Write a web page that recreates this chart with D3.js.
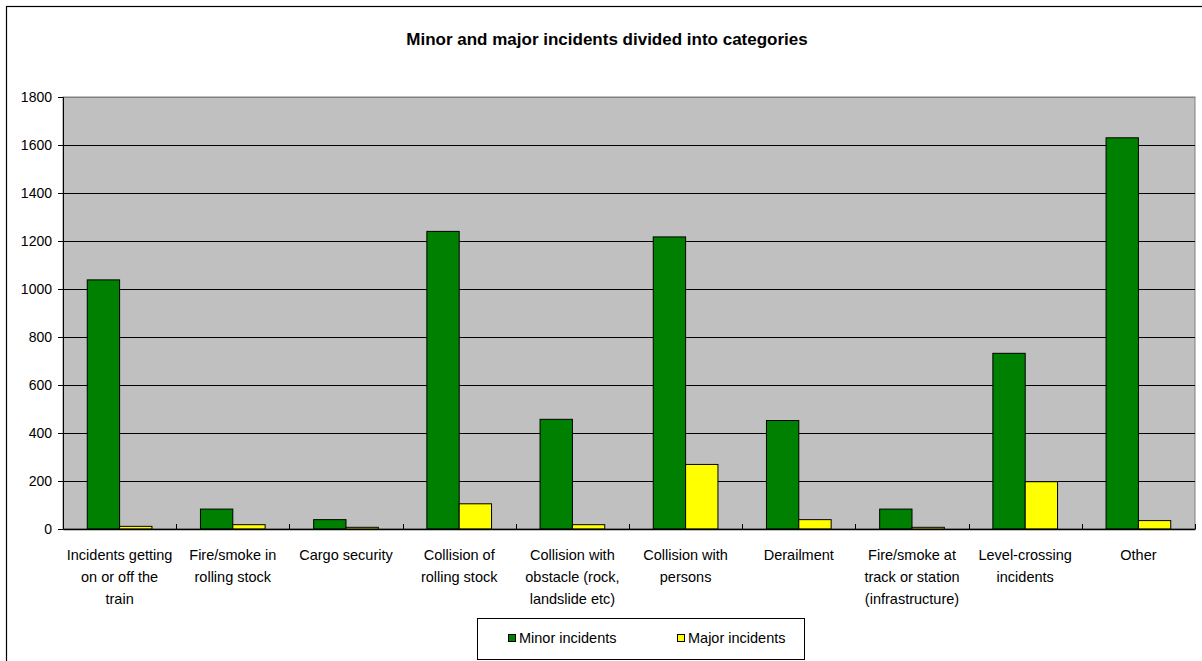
<!DOCTYPE html>
<html>
<head>
<meta charset="utf-8">
<script src="https://cdn.jsdelivr.net/npm/d3@7"></script>
<style>
  html, body { margin: 0; padding: 0; background: #fff; }
  svg { display: block; }
  text { font-family: "Liberation Sans", Arial, sans-serif; fill: #000; }
</style>
</head>
<body>
<svg id="chart" width="1202" height="661"></svg>
<script>
const title = "Minor and major incidents divided into categories";
const categories = [
  "Incidents getting on or off the train",
  "Fire/smoke in rolling stock",
  "Cargo security",
  "Collision of rolling stock",
  "Collision with obstacle (rock, landslide etc)",
  "Collision with persons",
  "Derailment",
  "Fire/smoke at track or station (infrastructure)",
  "Level-crossing incidents",
  "Other"
];
const categoryLines = [
  ["Incidents getting", "on or off the", "train"],
  ["Fire/smoke in", "rolling stock"],
  ["Cargo security"],
  ["Collision of", "rolling stock"],
  ["Collision with", "obstacle (rock,", "landslide etc)"],
  ["Collision with", "persons"],
  ["Derailment"],
  ["Fire/smoke at", "track or station", "(infrastructure)"],
  ["Level-crossing", "incidents"],
  ["Other"]
];
const seriesNames = ["Minor incidents", "Major incidents"];
const minorIncidents = [1038, 83, 39, 1240, 457, 1217, 452, 83, 732, 1630];
const majorIncidents = [11, 18, 7, 105, 18, 269, 39, 7, 197, 35];
const yTicks = [0, 200, 400, 600, 800, 1000, 1200, 1400, 1600, 1800];
const colors = ["#008000", "#FFFF00"];

const svg = d3.select("#chart");
const plot = { left: 63, right: 1195, top: 97, bottom: 529 };

// outer frame
svg.append("rect").attr("x", 6.5).attr("y", 6.5).attr("width", 1220).attr("height", 700)
  .attr("fill", "none").attr("stroke", "#000").attr("stroke-width", 1.2);

svg.append("text").attr("x", 607).attr("y", 45).attr("text-anchor", "middle")
  .style("font-size", "17px").style("font-weight", "bold").text(title);

const x = d3.scaleBand().domain(categories).range([plot.left, plot.right]).paddingInner(0).paddingOuter(0);
const y = d3.scaleLinear().domain([0, 1800]).range([plot.bottom, plot.top]);

// plot background
svg.append("rect").attr("x", plot.left).attr("y", plot.top)
  .attr("width", plot.right - plot.left).attr("height", plot.bottom - plot.top)
  .attr("fill", "#C0C0C0").attr("stroke", "#808080").attr("stroke-width", 1);

// gridlines
svg.append("g").selectAll("line").data(yTicks.filter(d => d > 0)).join("line")
  .attr("x1", plot.left).attr("x2", plot.right)
  .attr("y1", d => Math.round(y(d)) + 0.5).attr("y2", d => Math.round(y(d)) + 0.5)
  .attr("stroke", d => d === 1800 ? "#808080" : "#000").attr("stroke-width", 1);

// bars
const bw = x.bandwidth() / 3.5;
const series = [minorIncidents, majorIncidents];
series.forEach((vals, si) => {
  svg.append("g").selectAll("rect").data(categories).join("rect")
    .attr("x", c => x(c) + bw * (0.75 + si))
    .attr("y", (c, i) => y(vals[i]))
    .attr("width", bw)
    .attr("height", (c, i) => y(0) - y(vals[i]))
    .attr("fill", colors[si]).attr("stroke", "#000").attr("stroke-width", 1);
});

// y axis
const yAxis = svg.append("g").attr("transform", `translate(${plot.left},0)`)
  .call(d3.axisLeft(y).tickValues(yTicks).tickSize(5).tickPadding(6).tickFormat(d3.format("d")));
yAxis.select(".domain").attr("stroke", "#000");
yAxis.selectAll(".tick line").attr("stroke", "#000");
yAxis.selectAll("text").style("font-size", "14px").style("font-family", "'Liberation Sans', Arial, sans-serif");

// x axis: line with inside ticks at category boundaries
const xAxis = svg.append("g").attr("transform", `translate(0,${plot.bottom})`)
  .call(d3.axisBottom(x).tickSize(0).tickFormat(""));
xAxis.select(".domain").attr("stroke", "#000").attr("stroke-width", 1.5);
const bounds = categories.map(c => x(c)).concat([plot.right]);
svg.append("g").selectAll("line").data(bounds).join("line")
  .attr("x1", d => Math.round(d) + 0.5).attr("x2", d => Math.round(d) + 0.5)
  .attr("y1", plot.bottom).attr("y2", plot.bottom - 5)
  .attr("stroke", "#000").attr("stroke-width", 1);

// category labels
const labels = svg.append("g");
categories.forEach((c, i) => {
  const t = labels.append("text").attr("text-anchor", "middle").style("font-size", "14.5px");
  categoryLines[i].forEach((line, li) => {
    t.append("tspan").attr("x", x(c) + x.bandwidth() / 2).attr("y", 560 + li * 22).text(line);
  });
});

// legend
const lg = svg.append("g");
lg.append("rect").attr("x", 477.5).attr("y", 618.5).attr("width", 327).attr("height", 41)
  .attr("fill", "#fff").attr("stroke", "#000").attr("stroke-width", 1);
const legendX = [508, 677];
seriesNames.forEach((n, i) => {
  lg.append("rect").attr("x", legendX[i] + 0.5).attr("y", 634.5).attr("width", 7).attr("height", 7)
    .attr("fill", colors[i]).attr("stroke", "#000").attr("stroke-width", 1);
  lg.append("text").attr("x", legendX[i] + 11).attr("y", 643).style("font-size", "14.5px").text(n);
});
</script>
</body>
</html>
